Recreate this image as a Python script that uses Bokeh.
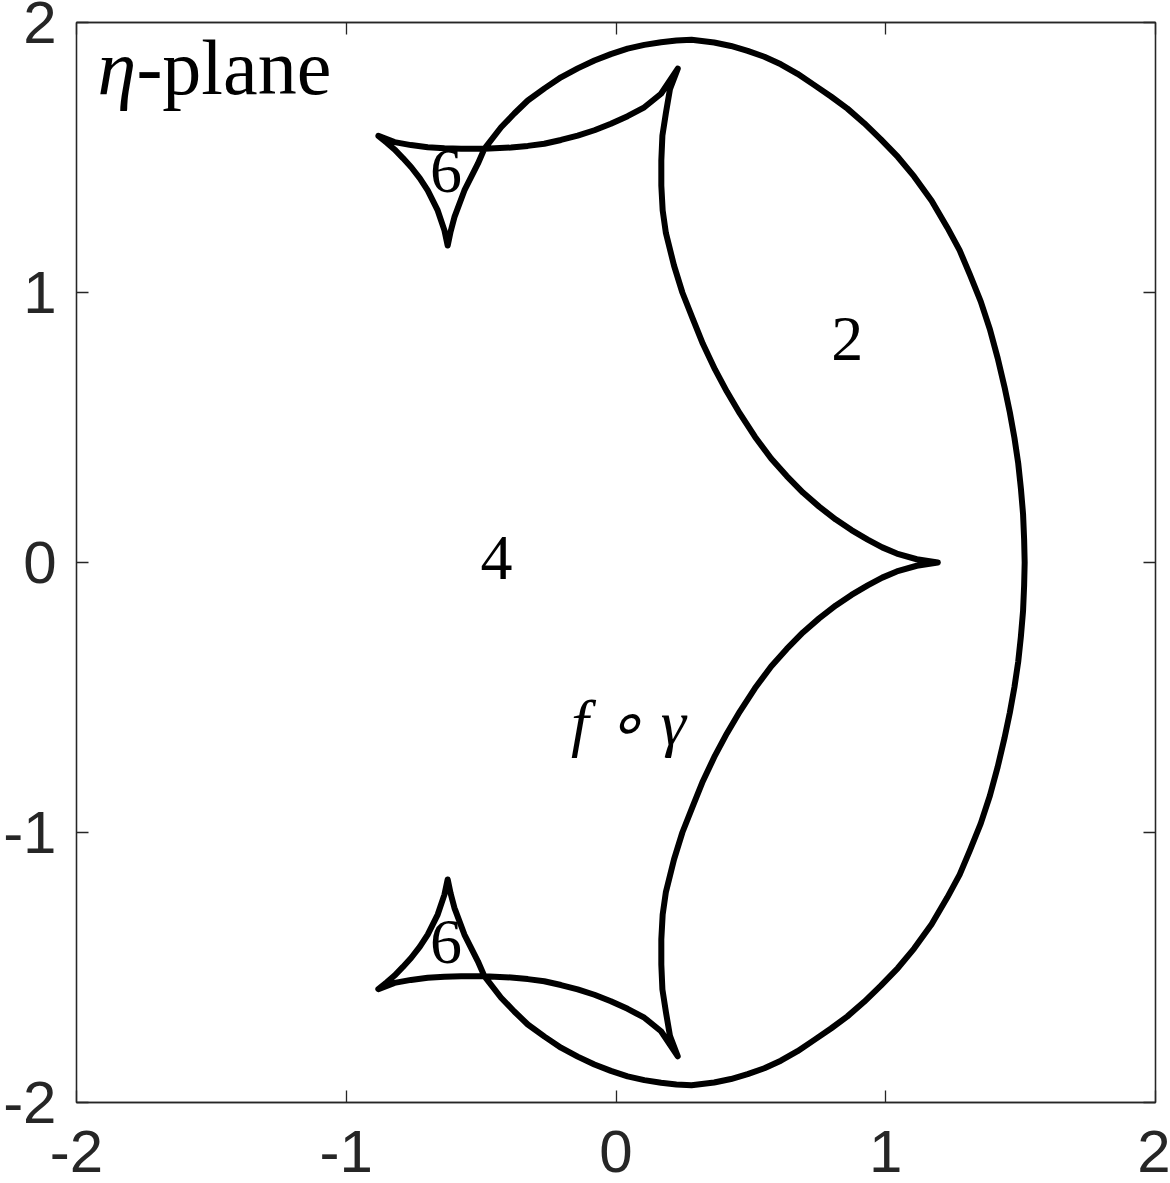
from bokeh.plotting import figure
from bokeh.models import Range1d, FixedTicker, LinearAxis
from bokeh.core.properties import value
from bokeh.embed import file_html
from bokeh.resources import INLINE

# ---- curve f o gamma in the eta-plane, in drawing order ----
# upper half: from the cusp on the real axis, up the inner arc, left along the arc,
# down the small triangle, up the outer loop and round to the real axis on the right
upper_x = [1.193, 1.115, 1.041, 0.987, 0.933, 0.873, 0.815, 0.753, 0.693, 0.633, 0.575, 0.515,
           0.459, 0.411, 0.367, 0.322, 0.284, 0.246, 0.215, 0.185, 0.173, 0.168, 0.168, 0.172,
           0.185, 0.200, 0.229,
           0.167, 0.105, 0.043, -0.019, -0.080, -0.142, -0.204, -0.266, -0.327, -0.389, -0.488,
           -0.574, -0.636, -0.698, -0.760, -0.821, -0.881,
           -0.850, -0.821, -0.790, -0.759, -0.727, -0.698, -0.661, -0.636, -0.624,
           -0.613, -0.599, -0.562, -0.512, -0.488, -0.426, -0.377, -0.327, -0.265, -0.204,
           -0.142, -0.080, -0.019, 0.043, 0.105, 0.167, 0.224, 0.280,
           0.364, 0.426, 0.488, 0.550, 0.611, 0.673, 0.734, 0.797, 0.858, 0.920, 0.981, 1.045,
           1.105, 1.170, 1.228, 1.274, 1.312, 1.352, 1.386, 1.415, 1.440, 1.460, 1.477, 1.491,
           1.501, 1.509, 1.513, 1.515]
upper_y = [0.000, 0.012, 0.033, 0.056, 0.085, 0.120, 0.159, 0.207, 0.259, 0.320, 0.385, 0.466,
           0.552, 0.633, 0.715, 0.810, 0.904, 1.000, 1.100, 1.220, 1.304, 1.396, 1.489, 1.581,
           1.665, 1.753, 1.829,
           1.736, 1.686, 1.653, 1.625, 1.601, 1.581, 1.565, 1.551, 1.543, 1.537, 1.532,
           1.532, 1.534, 1.538, 1.546, 1.557, 1.580,
           1.555, 1.530, 1.498, 1.464, 1.423, 1.378, 1.304, 1.230, 1.174,
           1.226, 1.279, 1.378, 1.477, 1.532, 1.612, 1.663, 1.711, 1.756, 1.797,
           1.830, 1.859, 1.883, 1.903, 1.917, 1.927, 1.933, 1.936,
           1.926, 1.913, 1.895, 1.873, 1.845, 1.810, 1.769, 1.726, 1.681, 1.627, 1.568, 1.502,
           1.430, 1.340, 1.241, 1.156, 1.066, 0.967, 0.864, 0.757, 0.651, 0.556, 0.462, 0.368,
           0.274, 0.180, 0.085, 0.000]
# lower half: from the real axis on the right, round the outer loop, the lower triangle,
# the lower arc and the lower inner arc back to the cusp
lower_x = [1.513, 1.509, 1.501, 1.491, 1.477, 1.460, 1.440, 1.415, 1.386, 1.352, 1.312, 1.274,
           1.228, 1.170, 1.105, 1.045, 0.981, 0.920, 0.858, 0.797, 0.734, 0.673, 0.611, 0.550,
           0.488, 0.426, 0.364,
           0.280, 0.224, 0.167, 0.105, 0.043, -0.019, -0.080, -0.142, -0.204, -0.265, -0.327,
           -0.377, -0.426, -0.488, -0.512, -0.562, -0.599, -0.613, -0.624,
           -0.636, -0.661, -0.698, -0.727, -0.759, -0.790, -0.821, -0.850, -0.881,
           -0.821, -0.760, -0.698, -0.636, -0.574, -0.488, -0.389, -0.327, -0.266, -0.204,
           -0.142, -0.080, -0.019, 0.043, 0.105, 0.167, 0.229,
           0.200, 0.185, 0.172, 0.168, 0.168, 0.173, 0.185, 0.215, 0.246, 0.284, 0.322, 0.367,
           0.411, 0.459, 0.515, 0.575, 0.633, 0.693, 0.753, 0.815, 0.873, 0.933, 0.987, 1.041,
           1.115, 1.193]
lower_y = [-0.085, -0.180, -0.274, -0.368, -0.462, -0.556, -0.651, -0.757, -0.864, -0.967, -1.066,
           -1.156, -1.241, -1.340, -1.430, -1.502, -1.568, -1.627, -1.681, -1.726, -1.769, -1.810,
           -1.845, -1.873, -1.895, -1.913, -1.926,
           -1.936, -1.933, -1.927, -1.917, -1.903, -1.883, -1.859, -1.830, -1.797, -1.756, -1.711,
           -1.663, -1.612, -1.532, -1.477, -1.378, -1.279, -1.226, -1.174,
           -1.230, -1.304, -1.378, -1.423, -1.464, -1.498, -1.530, -1.555, -1.580,
           -1.557, -1.546, -1.538, -1.534, -1.532, -1.532, -1.537, -1.543, -1.551, -1.565,
           -1.581, -1.601, -1.625, -1.653, -1.686, -1.736, -1.829,
           -1.753, -1.665, -1.581, -1.489, -1.396, -1.304, -1.220, -1.100, -1.000, -0.904, -0.810,
           -0.715, -0.633, -0.552, -0.466, -0.385, -0.320, -0.259, -0.207, -0.159, -0.120, -0.085,
           -0.056, -0.033, -0.012, 0.000]

# winding-number labels
region_x = [0.857, -0.443, -0.630, -0.630]
region_y = [0.826, 0.016, 1.451, -1.407]
region_text = ["2", "4", "6", "6"]

ticks = [-2, -1, 0, 1, 2]
tick_text = {-2: "-2", -1: "-1", 0: "0", 1: "1", 2: "2"}
axis_color = "#262626"

p = figure(width=1170, height=1183, output_backend="svg", toolbar_location=None,
           x_range=Range1d(-2, 2), y_range=Range1d(-2, 2),
           x_axis_location=None, y_axis_location=None,
           min_border_left=74, min_border_right=15, min_border_top=22, min_border_bottom=81,
           background_fill_color="white", border_fill_color="white")
p.grid.visible = False
p.outline_line_color = axis_color
p.outline_line_width = 1.3


def make_axis(show_labels):
    ax = LinearAxis(ticker=FixedTicker(ticks=ticks))
    ax.major_tick_in = 12
    ax.major_tick_out = 0
    ax.minor_tick_in = 0
    ax.minor_tick_out = 0
    ax.axis_line_color = axis_color
    ax.axis_line_width = 1.3
    ax.major_tick_line_color = axis_color
    ax.major_tick_line_width = 1.3
    ax.major_label_text_font = "Liberation Sans"
    ax.major_label_overrides = tick_text
    if show_labels:
        ax.major_label_text_color = axis_color
        ax.major_label_text_font_size = "60px"
    else:
        ax.major_label_text_color = None
        ax.major_label_text_font_size = "1px"
        ax.major_label_standoff = 0
    return ax


xb = make_axis(True)
xb.major_label_standoff = 28
yl = make_axis(True)
yl.major_label_standoff = 20
p.add_layout(xb, "below")
p.add_layout(yl, "left")
p.add_layout(make_axis(False), "above")
p.add_layout(make_axis(False), "right")

p.line(upper_x + lower_x, upper_y + lower_y, line_color="black", line_width=6,
       line_join="round", line_cap="round")

p.text(x=region_x, y=region_y, text=region_text, text_font=value("Liberation Serif"),
       text_font_size="64px", text_align="center", text_baseline="middle", text_color="black")

p.text(x=[0.046], y=[-0.594], text=["f ∘ γ"], text_font=value("Liberation Serif"),
       text_font_style="italic", text_font_size="64px", text_align="center",
       text_baseline="middle", text_color="black")

p.text(x=[-1.922], y=[1.835], text=["η"], text_font=value("Liberation Serif"),
       text_font_style="italic", text_font_size="78px", text_align="left",
       text_baseline="middle", text_color="black")
p.text(x=[-1.778], y=[1.835], text=["-plane"], text_font=value("Liberation Serif"),
       text_font_size="78px", text_align="left",
       text_baseline="middle", text_color="black")

open("out.html", "w").write(file_html(p, INLINE))
